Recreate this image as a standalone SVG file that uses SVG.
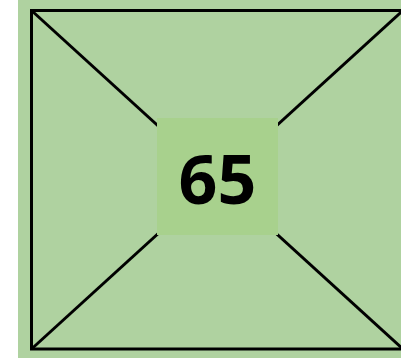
<svg xmlns="http://www.w3.org/2000/svg" width="401" height="358" viewBox="0 0 401 358">
<style>
.ln{stroke:#000;stroke-width:3;fill:none}
.lbl{font-family:"Open Sans","Noto Sans",sans-serif;font-weight:bold;font-size:68px;fill:#000}
</style>
<rect x="0" y="0" width="401" height="358" fill="#fff"/>
<rect x="18" y="0" width="383" height="358" fill="#afd2a0"/>
<g id="connectors">
<rect class="ln" x="31.5" y="10.5" width="372" height="338.5" stroke="#222"/>
<line class="ln" x1="31.5" y1="10.5" x2="403" y2="349"/>
<line class="ln" x1="403" y1="10.5" x2="31.5" y2="349"/>
</g>
<g id="node-65">
<rect x="157" y="118" width="121" height="117" fill="#a8d18d"/>
<text class="lbl" x="217.5" y="204" text-anchor="middle">65</text>
</g>
</svg>
